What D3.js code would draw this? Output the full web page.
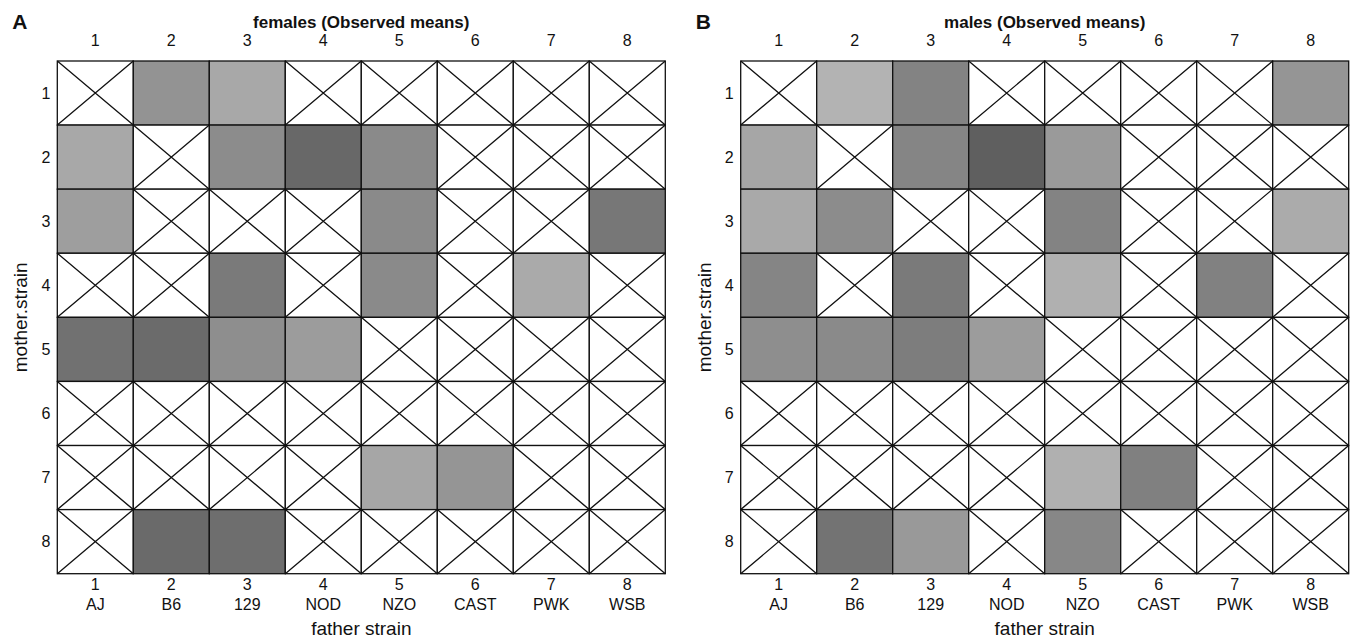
<!DOCTYPE html>
<html>
<head>
<meta charset="utf-8">
<script src="https://cdn.jsdelivr.net/npm/d3@7"></script>
<style>
  body { margin: 0; background: #fff; }
  text { font-family: "Liberation Sans", Arial, Helvetica, sans-serif; fill: #111; }
</style>
</head>
<body>
<svg id="chart"></svg>
<script>
// strain codes along both axes
const strainIds = [1, 2, 3, 4, 5, 6, 7, 8];
const strainNames = ["AJ", "B6", "129", "NOD", "NZO", "CAST", "PWK", "WSB"];

// observed means shown as grey level (0 = black, 255 = white); null = no cross observed
const femalesMeans = [
  [null, 147, 168, null, null, null, null, null],
  [168, null, 140, 104, 138, null, null, null],
  [158, null, null, null, 138, null, null, 119],
  [null, null, 122, null, 138, null, 170, null],
  [113, 107, 142, 156, null, null, null, null],
  [null, null, null, null, null, null, null, null],
  [null, null, null, null, 166, 149, null, null],
  [null, 106, 110, null, null, null, null, null]
];
const malesMeans = [
  [null, 179, 131, null, null, null, null, 149],
  [166, null, 133, 95, 154, null, null, null],
  [169, 140, null, null, 131, null, null, 171],
  [133, null, 122, null, 176, null, 129, null],
  [142, 138, 125, 156, null, null, null, null],
  [null, null, null, null, null, null, null, null],
  [null, null, null, null, 176, 128, null, null],
  [null, 115, 153, null, 135, null, null, null]
];

const panels = [
  { letter: "A", title: "females (Observed means)", values: femalesMeans, left: 57.3 },
  { letter: "B", title: "males (Observed means)", values: malesMeans, left: 740.7 }
];

const width = 1354, height = 640;
const gridW = 608, gridTop = 61, gridBottom = 573.7;

const svg = d3.select("#chart")
  .attr("width", width)
  .attr("height", height);

const grey = d3.scaleLinear([0, 255], ["#000000", "#ffffff"]);

panels.forEach(p => {
  const g = svg.append("g");

  const x = d3.scaleBand(strainIds, [p.left, p.left + gridW]);
  const y = d3.scaleBand(strainIds, [gridTop, gridBottom]);

  const cells = [];
  p.values.forEach((row, i) => row.forEach((v, j) => {
    cells.push({ mother: strainIds[i], father: strainIds[j], value: v });
  }));

  // cells
  g.selectAll("rect.cell")
    .data(cells)
    .enter().append("rect")
    .attr("class", "cell")
    .attr("x", d => x(d.father))
    .attr("y", d => y(d.mother))
    .attr("width", x.bandwidth())
    .attr("height", y.bandwidth())
    .attr("fill", d => d.value == null ? "#fff" : grey(d.value))
    .attr("stroke", "#111")
    .attr("stroke-width", 1.3);

  // crosses for missing combinations
  const missing = cells.filter(d => d.value == null);
  g.selectAll("path.cross")
    .data(missing)
    .enter().append("path")
    .attr("class", "cross")
    .attr("fill", "none")
    .attr("stroke", "#111")
    .attr("stroke-width", 1.3)
    .attr("d", d => {
      const x0 = x(d.father), x1 = x0 + x.bandwidth();
      const y0 = y(d.mother), y1 = y0 + y.bandwidth();
      return `M${x0},${y0}L${x1},${y1}M${x1},${y0}L${x0},${y1}`;
    });

  // top ticks
  g.selectAll("text.top")
    .data(strainIds)
    .enter().append("text")
    .attr("class", "top")
    .attr("x", d => x(d) + x.bandwidth() / 2)
    .attr("y", 46)
    .attr("text-anchor", "middle")
    .style("font-size", "16px")
    .text(d => d);

  // bottom ticks: number + strain name
  g.selectAll("text.bottom")
    .data(strainIds)
    .enter().append("text")
    .attr("class", "bottom")
    .attr("x", d => x(d) + x.bandwidth() / 2)
    .attr("y", 590)
    .attr("text-anchor", "middle")
    .style("font-size", "16px")
    .text(d => d);

  g.selectAll("text.name")
    .data(strainNames)
    .enter().append("text")
    .attr("class", "name")
    .attr("x", (d, i) => x(strainIds[i]) + x.bandwidth() / 2)
    .attr("y", 610)
    .attr("text-anchor", "middle")
    .style("font-size", "16px")
    .text(d => d);

  // row labels
  g.selectAll("text.row")
    .data(strainIds)
    .enter().append("text")
    .attr("class", "row")
    .attr("x", p.left - 7)
    .attr("y", d => y(d) + y.bandwidth() / 2)
    .attr("dy", "0.36em")
    .attr("text-anchor", "end")
    .style("font-size", "16px")
    .text(d => d);

  // titles
  const cx = p.left + gridW / 2;
  g.append("text")
    .attr("x", cx)
    .attr("y", 28)
    .attr("text-anchor", "middle")
    .style("font-size", "17px")
    .style("font-weight", "bold")
    .text(p.title);

  g.append("text")
    .attr("x", p.left - 45)
    .attr("y", 29)
    .style("font-size", "21px")
    .style("font-weight", "bold")
    .text(p.letter);

  g.append("text")
    .attr("x", cx)
    .attr("y", 635)
    .attr("text-anchor", "middle")
    .style("font-size", "19px")
    .text("father strain");

  g.append("text")
    .attr("transform", `translate(${p.left - 30},${(gridTop + gridBottom) / 2}) rotate(-90)`)
    .attr("text-anchor", "middle")
    .style("font-size", "19px")
    .text("mother.strain");
});
</script>
</body>
</html>
